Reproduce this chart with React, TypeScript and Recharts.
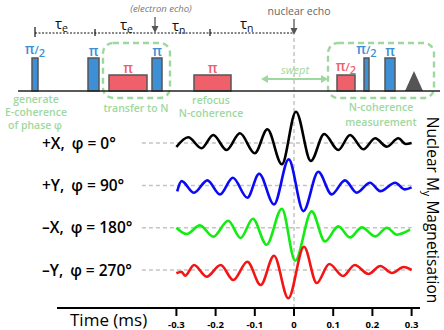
import { ComposedChart, Line, XAxis, YAxis, ReferenceLine, ReferenceArea } from "recharts"

const FONT = "'Open Sans', sans-serif"
const GREEN = "#9ed89e"
const BLUE = "#3d8fd6"
const RED = "#f0606a"
const EDGE = "#555"

// --- measured traces (time in ms, signal in arbitrary units) ---
const TIME_TICKS = [-0.3, -0.2, -0.1, 0, 0.1, 0.2, 0.3]

const PHASES = ["+X,", "+Y,", "–X,", "–Y,"]
const PHASE_DEG = [0, 90, 180, 270]
const TRACE_COLORS = ["#000000", "#0a0af5", "#12ec12", "#f51414"]
const TRACE_OFFSETS = [127, 84.6, 42.3, 0]

const blackT = [-0.3, -0.27, -0.236, -0.206, -0.172, -0.138, -0.1, -0.068, -0.031, 0.005, 0.043, 0.077, 0.113, 0.143, 0.177, 0.207, 0.237, 0.266, 0.285, 0.3]
const blackV = [-4, 5.7, -5.3, 8, -7, 9.7, -10.3, 13.7, -21.3, 31.3, -18, 9, -7, 8, -6.3, 4.7, -3.7, 4.7, -1, 0]

const blueT = [-0.298, -0.287, -0.255, -0.221, -0.189, -0.156, -0.119, -0.089, -0.051, -0.0135, 0.024, 0.062, 0.096, 0.13, 0.16, 0.194, 0.22, 0.258, 0.283, 0.3]
const blueV = [-6, 4.3, -7.3, 5, -9, 7.7, -12.3, 11.7, -19, 26, -25.7, 13.7, -9, 5, -7.3, 2.7, -5.7, 2.7, -4, -2]

const greenT = [-0.3, -0.274, -0.24, -0.206, -0.168, -0.136, -0.105, -0.07, -0.031, 0.003, 0.045, 0.079, 0.113, 0.143, 0.173, 0.207, 0.237, 0.262, 0.296]
const greenV = [0, -6.3, 2.3, -9, 7, -10.3, 9, -17, 19, -33, 16.3, -13.7, 1.3, -9.7, 0.3, -8.7, 0, -7, -2]

const redT = [-0.3, -0.287, -0.278, -0.255, -0.223, -0.187, -0.155, -0.119, -0.085, -0.051, -0.0146, 0.0255, 0.058, 0.09, 0.125, 0.155, 0.19, 0.22, 0.25, 0.28, 0.3]
const redV = [-3.3, -1.7, -5.7, 5, -6.7, 5, -10, 8.3, -15, 14.3, -28.3, 23.3, -13, 6, -6, 5, -4, 4, -3, 3, 0]

const TRACE_T = [blackT, blueT, greenT, redT]
const TRACE_V = [blackV, blueV, greenV, redV]

// --- pulse sequence (schematic units along the sequence) ---
const pulseStart = [32, 88, 109, 152, 194, 337, 364, 385]
const pulseEnd = [38, 99, 147, 162, 231, 355, 369, 395]
const pulseKind = ["e", "e", "n", "e", "n", "n", "e", "e"] // e = electron (blue), n = nuclear (red)
const pulseAngle = ["π/2", "π", "π", "π", "π", "π/2", "π/2", "π"]
const detectWindow = [405, 423]
const seqMarks = [35, 95, 155, 210, 294]
const boxSpans = [[103, 170], [328, 434]]
const seqExtent = [{ x: 18 }, { x: 440 }]

const traceData = (k: number) =>
  TRACE_T[k].map((t, i) => ({ t, v: TRACE_V[k][i] + TRACE_OFFSETS[k] }))

function PhaseTick({ y, payload }: any) {
  const i = TRACE_OFFSETS.indexOf(payload.value)
  return (
    <text x={42} y={y} dy="0.36em" fontFamily={FONT} fontWeight={600} fontSize={15.5} fill="#000">
      {PHASES[i]}
      <tspan dx={7}>φ = {PHASE_DEG[i]}°</tspan>
    </text>
  )
}

function PulseLabel({ viewBox, text, color }: any) {
  const cx = viewBox.x + viewBox.width / 2
  const half = text === "π/2"
  return (
    <text x={cx} y={viewBox.y - (half ? 4 : 2)} textAnchor="middle" fill={color} fontFamily={FONT} fontWeight={600} fontSize={14}>
      π
      {half && <tspan fontSize={11}>/</tspan>}
      {half && <tspan fontSize={11} dy={3}>2</tspan>}
    </text>
  )
}

function Tau({ x, y, sub }: { x: number; y: number; sub: string }) {
  return (
    <text x={x} y={y} fontFamily={FONT} fontSize={15} fill="#111">
      τ<tspan fontSize={10.5} dy={3}>{sub}</tspan>
    </text>
  )
}

function DownArrow({ x, y1, y2 }: { x: number; y1: number; y2: number }) {
  return (
    <g>
      <line x1={x} y1={y1} x2={x} y2={y2 - 5} stroke={EDGE} strokeWidth={1.3} />
      <polygon points={`${x - 3.5},${y2 - 7} ${x + 3.5},${y2 - 7} ${x},${y2}`} fill={EDGE} />
    </g>
  )
}

const greenText = { fontFamily: FONT, fontWeight: 600, fontSize: 10.5, fill: GREEN, textAnchor: "middle" as const }

export default function App() {
  return (
    <div style={{ position: "absolute", left: 0, top: 0, width: 444, height: 330, background: "#fff" }}>
      <div style={{ position: "absolute", left: 0, top: 0 }}>
        <ComposedChart width={444} height={330} margin={{ top: 35, right: 24, bottom: 0, left: 0 }}>
          <XAxis
            type="number"
            dataKey="t"
            domain={[-0.6046, 0.3214]}
            allowDataOverflow
            ticks={TIME_TICKS}
            tickFormatter={(v: number) => (v === 0 ? "0" : String(v))}
            height={22}
            tickSize={8}
            tickMargin={5}
            axisLine={{ stroke: "#000", strokeWidth: 2 }}
            tickLine={{ stroke: "#000", strokeWidth: 2 }}
            tick={{ fontFamily: FONT, fontWeight: 700, fontSize: 9.5, fill: "#000" }}
            interval={0}
          />
          <YAxis
            type="number"
            domain={[-38, 235]}
            allowDataOverflow
            ticks={[...TRACE_OFFSETS].reverse()}
            width={57}
            axisLine={false}
            tickLine={false}
            tick={<PhaseTick />}
            interval={0}
          />
          <ReferenceLine x={0} stroke="#c4c4c4" strokeWidth={1.5} strokeDasharray="4 3" />
          {TRACE_OFFSETS.map((off) => (
            <ReferenceLine
              key={off}
              segment={[{ x: -0.388, y: off }, { x: 0.3, y: off }]}
              stroke="#c4c4c4"
              strokeWidth={1.5}
              strokeDasharray="4 3"
            />
          ))}
          {TRACE_OFFSETS.map((_, k) => (
            <Line
              key={k}
              data={traceData(k)}
              dataKey="v"
              type="monotone"
              stroke={TRACE_COLORS[k]}
              strokeWidth={2.6}
              dot={false}
              activeDot={false}
              isAnimationActive={false}
            />
          ))}
        </ComposedChart>
      </div>

      <div style={{ position: "absolute", left: 0, top: 0 }}>
        <ComposedChart width={444} height={100} data={seqExtent} margin={{ top: 0, right: 0, bottom: 0, left: 0 }}>
          <XAxis type="number" dataKey="x" domain={[0, 444]} allowDataOverflow hide />
          <YAxis type="number" domain={[-9, 91]} allowDataOverflow hide />
          {boxSpans.map(([a, b]) => (
            <ReferenceArea
              key={a}
              x1={a}
              x2={b}
              y1={-7}
              y2={48}
              shape={(p: any) => (
                <rect x={p.x} y={p.y} width={p.width} height={p.height} rx={10} fill="none" stroke={GREEN} strokeWidth={2.4} strokeDasharray="6 4" />
              )}
            />
          ))}
          <ReferenceLine
            segment={[{ x: seqExtent[0].x, y: 0 }, { x: seqExtent[1].x, y: 0 }]}
            stroke="#222"
            strokeWidth={1.6}
          />
          {pulseStart.map((s, i) => (
            <ReferenceArea
              key={i}
              x1={s}
              x2={pulseEnd[i]}
              y1={0}
              y2={pulseKind[i] === "e" ? 33 : 16}
              fill={pulseKind[i] === "e" ? BLUE : RED}
              fillOpacity={1}
              stroke={EDGE}
              strokeWidth={1.5}
              label={<PulseLabel text={pulseAngle[i]} color={pulseKind[i] === "e" ? BLUE : RED} />}
            />
          ))}
          <ReferenceArea
            x1={detectWindow[0]}
            x2={detectWindow[1]}
            y1={0}
            y2={20}
            shape={(p: any) => (
              <polygon points={`${p.x},${p.y + p.height} ${p.x + p.width / 2},${p.y} ${p.x + p.width},${p.y + p.height}`} fill={EDGE} />
            )}
          />
          <ReferenceLine
            segment={[{ x: seqMarks[0], y: 58 }, { x: seqMarks[4], y: 58 }]}
            stroke="#111"
            strokeWidth={1.2}
            strokeDasharray="2 1.5"
          />
          <ReferenceLine segment={[{ x: seqMarks[0], y: 54 }, { x: seqMarks[0], y: 64 }]} stroke="#111" strokeWidth={1.2} />
          {[seqMarks[1], seqMarks[3]].map((m) => (
            <ReferenceLine key={m} segment={[{ x: m, y: 55 }, { x: m, y: 62 }]} stroke="#111" strokeWidth={1.2} />
          ))}
        </ComposedChart>
      </div>

      <svg width={444} height={330} style={{ position: "absolute", left: 0, top: 0, pointerEvents: "none" }}>
        <text x={161} y={11.5} textAnchor="middle" fontFamily={FONT} fontStyle="italic" fontSize={9.5} fill="#777">
          (electron echo)
        </text>
        <text x={299} y={15} textAnchor="middle" fontFamily={FONT} fontSize={10.5} fill="#666">
          nuclear echo
        </text>
        <DownArrow x={155} y1={17} y2={33} />
        <DownArrow x={294} y1={19} y2={35} />
        <Tau x={55} y={29} sub="e" />
        <Tau x={120} y={30} sub="e" />
        <Tau x={172} y={31} sub="n" />
        <Tau x={240} y={29} sub="n" />

        <line x1={266} y1={79} x2={323} y2={79} stroke={GREEN} strokeWidth={1.8} />
        <polygon points="261,79 268,75 268,83" fill={GREEN} />
        <polygon points="328,79 321,75 321,83" fill={GREEN} />
        <text x={295} y={74} textAnchor="middle" fontFamily={FONT} fontStyle="italic" fontSize={11} fill={GREEN}>
          swept
        </text>

        <text x={36} y={103} {...greenText}>generate</text>
        <text x={36} y={116} {...greenText}>E-coherence</text>
        <text x={35} y={129} {...greenText}>of phase φ</text>
        <text x={136} y={112} {...greenText}>transfer to N</text>
        <text x={211} y={104} {...greenText}>refocus</text>
        <text x={211} y={117} {...greenText}>N-coherence</text>
        <text x={381} y={111} {...greenText}>N-coherence</text>
        <text x={381} y={126} {...greenText}>measurement</text>

        <text x={70} y={326} fontFamily={FONT} fontSize={17} fill="#000">
          Time (ms)
        </text>
        <text transform="translate(427,210) rotate(90)" textAnchor="middle" fontFamily={FONT} fontSize={15.5} fill="#000">
          Nuclear M<tspan fontSize={11} dy={4}>y</tspan>
          <tspan dy={-4}> Magnetisation</tspan>
        </text>
      </svg>
    </div>
  )
}
